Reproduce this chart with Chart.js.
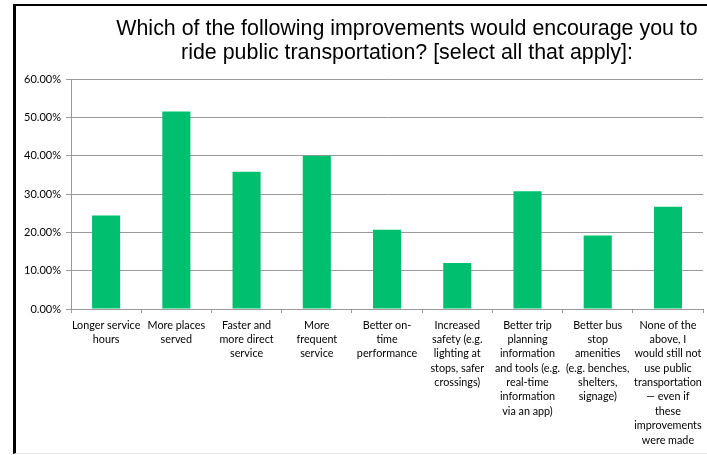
<!DOCTYPE html>
<html>
<head>
<meta charset="utf-8">
<script src="https://cdn.jsdelivr.net/npm/chart.js@4"></script>
<style>
  body { margin: 0; background: #fff; }
  #wrap { position: relative; width: 707px; height: 455px; }
  #frame {
    position: absolute; left: 13px; top: 4px; right: -10px; bottom: 1px;
    border-left: 3px solid #000; border-top: 2px solid #000;
    border-bottom: 1px solid #e6e6e6; pointer-events: none;
  }
</style>
</head>
<body>
<div id="wrap">
  <canvas id="myChart" width="707" height="455"></canvas>
  <div id="frame"></div>
</div>
<script>
const labels = [
  ["Longer service", "hours"],
  ["More places", "served"],
  ["Faster and", "more direct", "service"],
  ["More", "frequent", "service"],
  ["Better on-", "time", "performance"],
  ["Increased", "safety (e.g.", "lighting at", "stops, safer", "crossings)"],
  ["Better trip", "planning", "information", "and tools (e.g.", "real-time", "information", "via an app)"],
  ["Better bus", "stop", "amenities", "(e.g. benches,", "shelters,", "signage)"],
  ["None of the", "above, I", "would still not", "use public", "transportation", "\u2014 even if", "these", "improvements", "were made"],
];
const values = [0.244, 0.515, 0.358, 0.400, 0.207, 0.120, 0.307, 0.192, 0.267];
const yTicks = [0, 0.1, 0.2, 0.3, 0.4, 0.5, 0.6];
const titleLines = [
  "Which of the following improvements would encourage you to",
  "ride public transportation? [select all that apply]:",
];

// title drawn by hand so it can sit off-centre like the original
const titlePlugin = {
  id: "titleText",
  afterDraw(chart) {
    const ctx = chart.ctx;
    ctx.save();
    ctx.fillStyle = "#000";
    ctx.font = "21.4px 'Liberation Sans', Arial, sans-serif";
    ctx.textAlign = "center";
    ctx.textBaseline = "middle";
    ctx.fillText(titleLines[0], 407, 29);
    ctx.fillText(titleLines[1], 407, 53);
    ctx.restore();
  },
};

const gridColor = "#9a9a9a";

const data = {
  labels: labels,
  datasets: [
    {
      label: "",
      data: values,
      backgroundColor: "#00BF6F",
      borderWidth: 0,
      categoryPercentage: 1,
      barPercentage: 0.4,
    },
  ],
};

const config = {
  type: "bar",
  data: data,
  options: {
    responsive: false,
    animation: false,
    layout: {
      padding: { top: 79, right: 2, left: 0, bottom: 0 },
    },
    scales: {
      x: {
        grid: {
          display: true,
          drawOnChartArea: false,
          offset: true,
          tickLength: 4,
          color: gridColor,
        },
        border: { color: gridColor, width: 1 },
        ticks: {
          color: "#000",
          font: { family: "Lato", size: 10.8, lineHeight: 1.33 },
          padding: 5,
          maxRotation: 0,
          autoSkip: false,
        },
        afterFit(scale) {
          scale.height = 146;
        },
      },
      y: {
        min: 0,
        max: 0.6,
        afterBuildTicks(scale) {
          scale.ticks = yTicks.map((v) => ({ value: v }));
        },
        grid: {
          color: gridColor,
          lineWidth: 1,
          tickLength: 5,
        },
        border: { color: gridColor, width: 1 },
        ticks: {
          color: "#000",
          font: { family: "Lato", size: 11 },
          padding: 5,
          callback: (v) => (v * 100).toFixed(2) + "%",
        },
        afterFit(scale) {
          scale.width = 71;
        },
      },
    },
    plugins: {
      legend: { display: false },
      title: { display: false },
      tooltip: { enabled: false },
    },
  },
  plugins: [titlePlugin],
};

const myChart = new Chart(document.getElementById("myChart"), config);
</script>
</body>
</html>
